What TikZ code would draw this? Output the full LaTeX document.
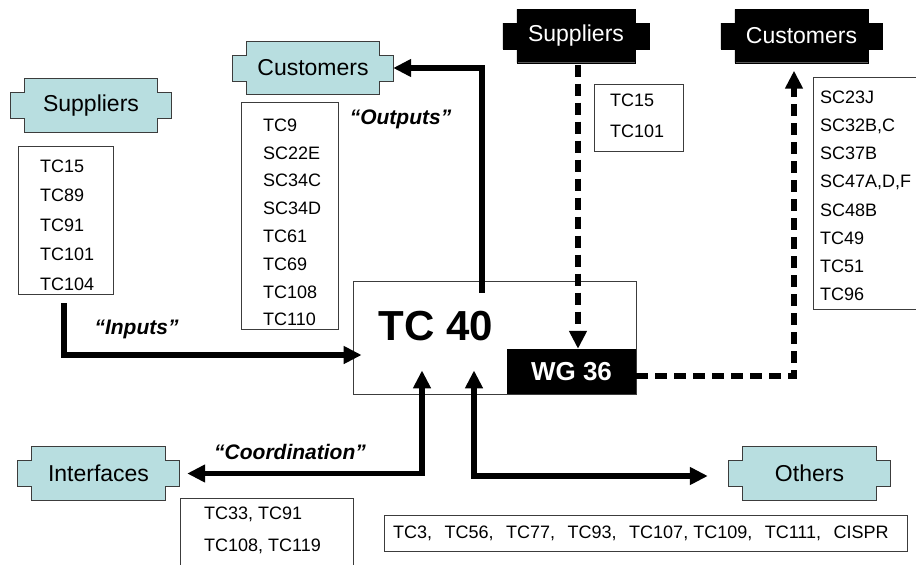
\documentclass[tikz,border=0pt]{standalone}
\usepackage{fontspec}
\setmainfont{Liberation Sans}
\usetikzlibrary{arrows.meta}
\pgfdeclarelayer{background}
\pgfsetlayers{background,main}
\definecolor{tealbox}{RGB}{184,222,224}
\definecolor{edge}{RGB}{60,60,60}
% outline of a banner round a named node
\newcommand{\bannerpath}[1]{(#1.north west) -- (#1.north east) -- ([yshift=13pt]#1.east) -- ++(14pt,0) -- ++(0,-26pt) -- ++(-14pt,0) -- (#1.south east) -- (#1.south west) -- ([yshift=-13pt]#1.west) -- ++(-14pt,0) -- ++(0,26pt) -- ++(14pt,0) -- cycle}
\newcommand{\gap}{,\hspace{12.5pt}}

\begin{document}
\begin{tikzpicture}[x=1pt,y=-1pt,
	banner/.style={minimum width=132pt,minimum height=53pt,inner sep=0pt,font=\fontsize{23}{23}\selectfont},
	box/.style={draw=edge,line width=0.8pt,inner sep=0pt},
	lines/.style={anchor=north west,inner sep=0pt,align=left},
	flow/.style={line width=5.3pt,-{Triangle[length=18pt,width=17pt]}},
	both/.style={line width=5.3pt,{Triangle[length=18pt,width=17pt]}-{Triangle[length=18pt,width=17pt]}},
	dashflow/.style={flow,dash pattern=on 12pt off 7pt},
	quote/.style={inner sep=0pt,font=\fontsize{21}{21}\selectfont\bfseries\itshape}]
	\useasboundingbox (0,0) rectangle (916,565);

	% banners
	\node[banner] (supL) at (91,105.5) {Suppliers};
	\node[banner] (custL) at (313,68) {Customers};
	\node[banner,minimum width=118pt,text=white] (supR) at (576,36) {Suppliers};
	\node[banner,minimum width=133pt,text=white] (custR) at (801.5,36) {Customers};
	\node[banner,minimum width=133pt] (intf) at (98.5,473.5) {Interfaces};
	\node[banner,minimum width=133pt] (others) at (809.5,473.5) {Others};
	\begin{pgfonlayer}{background}
		\draw[edge,fill=tealbox,line width=0.8pt] \bannerpath{supL};
		\draw[edge,fill=tealbox,line width=0.8pt] \bannerpath{custL};
		\draw[edge,fill=tealbox,line width=0.8pt] \bannerpath{intf};
		\draw[edge,fill=tealbox,line width=0.8pt] \bannerpath{others};
		\draw[fill=black] \bannerpath{supR};
		\draw[fill=black] \bannerpath{custR};
	\end{pgfonlayer}

	% lists
	\node[box,minimum width=95pt,minimum height=148pt] (suplist) at (65.5,220) {};
	\node[lines,font=\fontsize{18}{29.5}\selectfont] (suptxt) at (40,159.5) {TC15\\TC89\\TC91\\TC101\\TC104};
	\node[box,minimum width=97pt,minimum height=227pt] (custlist) at (289.5,215.5) {};
	\node[lines,font=\fontsize{18}{27.8}\selectfont] (custtxt) at (263,118.5) {TC9\\SC22E\\SC34C\\SC34D\\TC61\\TC69\\TC108\\TC110};
	\node[box,minimum width=89pt,minimum height=67pt] (suplist2) at (638.5,117.5) {};
	\node[lines,font=\fontsize{18}{31.5}\selectfont] (suptxt2) at (610,93.5) {TC15\\TC101};
	\node[box,minimum width=109pt,minimum height=232pt] (custlist2) at (867.5,193) {};
	\node[lines,font=\fontsize{18}{28.2}\selectfont] (custtxt2) at (820,90.5) {SC23J\\SC32B,C\\SC37B\\SC47A,D,F\\SC48B\\TC49\\TC51\\TC96};
	\node[box,minimum width=173pt,minimum height=72pt] (intflist) at (266.5,534) {};
	\node[lines,font=\fontsize{18}{32}\selectfont] (intftxt) at (204,506.5) {TC33, TC91\\TC108, TC119};
	\node[box,minimum width=523pt,minimum height=36pt] (othlist) at (645.5,533) {};
	\node[anchor=west,inner sep=0pt,font=\fontsize{18}{18}\selectfont] (othtxt) at (393,533) {TC3\gap TC56\gap TC77\gap TC93\gap TC107, TC109\gap TC111\gap CISPR};

	% TC 40 and WG 36
	\node[box,minimum width=283pt,minimum height=113pt] (tc40) at (494.5,337.5) {};
	\node[inner sep=0pt,font=\fontsize{42}{42}\selectfont\bfseries] (tc40lbl) at (436,325.7) {TC 40};
	\node[fill=black,minimum width=129pt,minimum height=45pt,inner sep=0pt,text=white,font=\fontsize{26}{26}\selectfont\bfseries] (wg) at (571.5,371.5) {WG 36};

	% connectors
	\draw[flow] ([xshift=-1.5pt,yshift=-9pt]suplist.south) |- ([xshift=9pt,yshift=-17.5pt]tc40.west);
	\draw[flow] ([xshift=-12.5pt,yshift=-12pt]tc40.north) |- ([xshift=14pt]custL.east);
	\draw[dashflow] ([xshift=2pt,yshift=-2pt]supR.south) -- ([xshift=6.5pt]wg.north);
	\draw[dashflow] ([yshift=-4.5pt]wg.east) -| ([xshift=-7.5pt,yshift=-8pt]custR.south);
	\draw[both] ([xshift=22pt]intf.east) -| ([xshift=-72.5pt,yshift=24pt]tc40.south);
	\draw[both] ([xshift=-20.5pt,yshift=24pt]tc40.south) |- ([xshift=-35pt,yshift=-2.5pt]others.west);

	% labels
	\node[quote] (outlbl) at (400.5,119.5) {“Outputs”};
	\node[quote] (inlbl) at (136.5,329.5) {“Inputs”};
	\node[quote] (coordlbl) at (290,451.5) {“Coordination”};
\end{tikzpicture}
\end{document}
